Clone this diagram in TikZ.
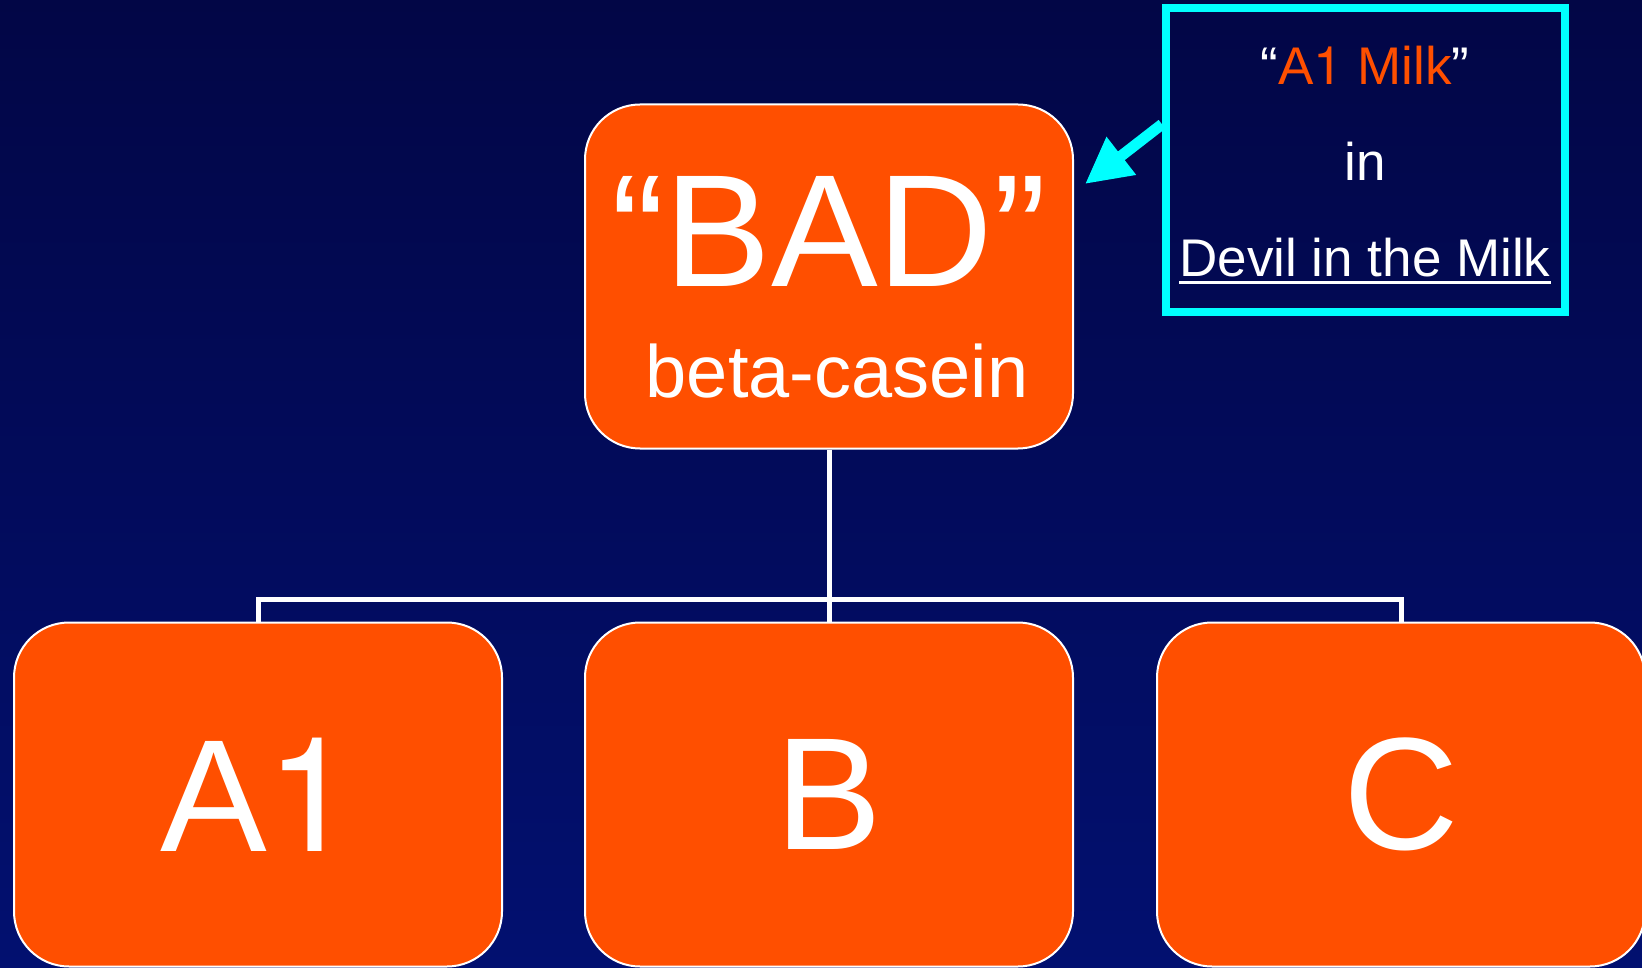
\documentclass[tikz,border=0pt]{standalone}
\usepackage{fontspec}
\setmainfont{Liberation Sans}
\newfontfamily\herosfont{TeX Gyre Heros}
\usetikzlibrary{arrows.meta}
\definecolor{bgtop}{RGB}{2,6,70}
\definecolor{bgbot}{RGB}{2,16,112}
\definecolor{boxorange}{RGB}{255,79,0}
\definecolor{notecyan}{RGB}{0,255,255}
\tikzset{
  obox/.style={draw=white, line width=2pt, fill=boxorange, rounded corners=55pt,
    minimum width=488pt, minimum height=344pt, inner sep=0pt, text=white,
    font=\fontsize{160}{160}\selectfont},
  conn/.style={draw=white, line width=5pt},
  txt/.style={text=white, inner sep=0pt, anchor=base},
}
\begin{document}
\begin{tikzpicture}[x=1pt, y=-1pt]
\useasboundingbox (0,0) rectangle (1642,968);
\fill[top color=bgtop, bottom color=bgbot] (0,0) rectangle (1642,968);

% boxes
\node[obox] (bad) at (829,276.5) {};
\node[obox] (a1) at (258,794.5) {A{\herosfont 1}};
\node[obox] (b) at (829,794.5) {B};
\node[obox] (c) at (1401,794.5) {C};

\node[txt, font=\fontsize{160}{160}\selectfont] (badt) at (829,287) {“BAD”};
\node[txt, font=\fontsize{74}{74}\selectfont] (beta) at (837,398) {beta-casein};

% connectors
\coordinate (bus) at (829,599);
\draw[conn] (bad.south) -- (bus) -- (b.north);
\draw[conn] (a1.north) -- (a1.north |- bus) -- (c.north |- bus) -- (c.north);

% note box
\node[draw=notecyan, line width=8pt, minimum width=399pt, minimum height=303.5pt, inner sep=0pt] (note) at (1365.5,160.25) {};
\node[txt, font=\fontsize{53}{53}\selectfont] (milk) at (1365,85) {“\textcolor{boxorange}{A{\herosfont 1} Milk}”};
\node[txt, font=\fontsize{53}{53}\selectfont] (in) at (1365,181) {in};
\node[txt, font=\fontsize{53}{53}\selectfont] (devil) at (1365,277) {Devil in the Milk};
\draw[white, line width=3pt] ([yshift=-5.5pt]devil.base west) -- ([yshift=-5.5pt]devil.base east);

% arrow
\coordinate (tip) at (1085,184);
\draw[notecyan, line width=11pt, -{Triangle[length=46pt, width=45pt]}] ([yshift=36pt]note.west) -- (tip);
\end{tikzpicture}
\end{document}
